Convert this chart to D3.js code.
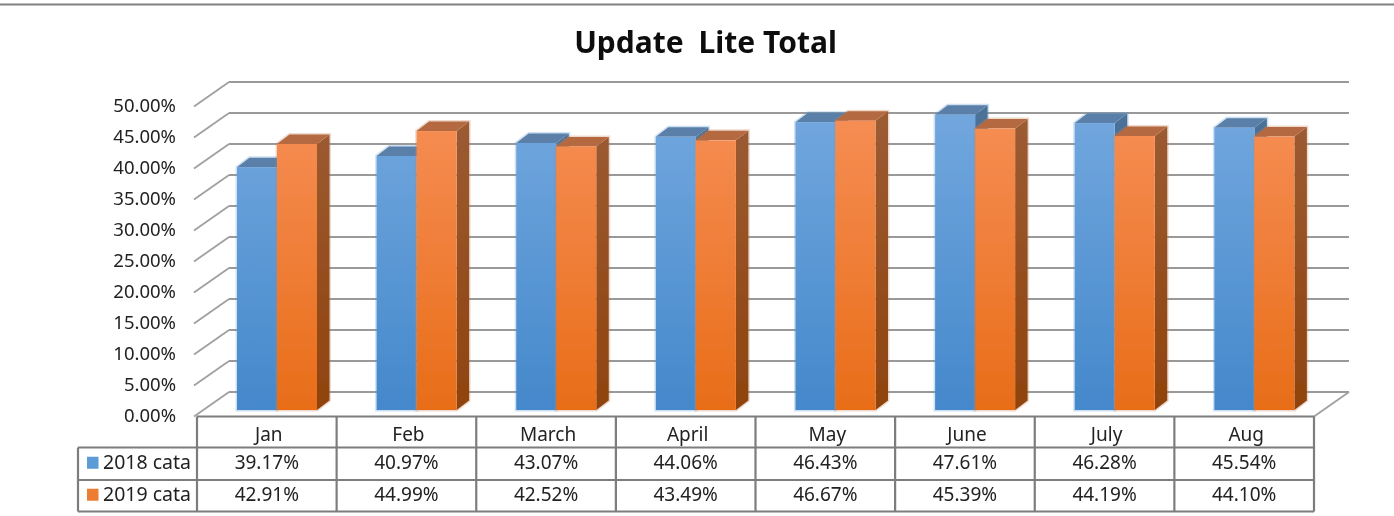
<!DOCTYPE html>
<html>
<head>
<meta charset="utf-8">
<script src="https://cdn.jsdelivr.net/npm/d3@7"></script>
<style>
  html, body { margin: 0; padding: 0; background: #fff; }
  svg { display: block; }
  text { font-family: "Noto Sans", sans-serif; fill: #222; }
</style>
</head>
<body>
<svg id="chart" width="1394" height="516"></svg>
<script>
const months = ["Jan", "Feb", "March", "April", "May", "June", "July", "Aug"];
const seriesNames = ["2018 cata", "2019 cata"];
const values2018 = [39.17, 40.97, 43.07, 44.06, 46.43, 47.61, 46.28, 45.54];
const values2019 = [42.91, 44.99, 42.52, 43.49, 46.67, 45.39, 44.19, 44.10];
const yTicks = [0, 5, 10, 15, 20, 25, 30, 35, 40, 45, 50];

const svg = d3.select("#chart");
const width = 1394, height = 516;

// chart box
const left = 197, right = 1314;
const depthX = 34, depthY = 24.5;    // floor depth
const barDepthX = 12.5, barDepthY = 9.5;
const floorFront = 416.5;
const barBase = 410;
const rows = [416.5, 447.5, 480, 511.5];
const legendLeft = 78;

const x = d3.scaleBand().domain(months).range([left, right]);
const y = d3.scaleLinear().domain([0, 50]).range([floorFront, floorFront - 310]);
const yBar = d3.scaleLinear().domain([0, 50]).range([barBase, barBase - 310]);
const inner = d3.scaleBand().domain(seriesNames).range([40, 120]);

const defs = svg.append("defs");
defs.append("filter").attr("id", "soft")
  .append("feGaussianBlur").attr("stdDeviation", 0.5);

function addGradient(id, top, bottom) {
  const g = defs.append("linearGradient").attr("id", id)
    .attr("gradientUnits", "userSpaceOnUse")
    .attr("x1", 0).attr("x2", 0).attr("y1", 110).attr("y2", barBase);
  g.append("stop").attr("offset", "0%").attr("stop-color", top);
  g.append("stop").attr("offset", "100%").attr("stop-color", bottom);
}
addGradient("front0", "#72a7de", "#4488cb");
addGradient("front1", "#f68e55", "#e86d18");
addGradient("side0", "#4c7298", "#2e5f8e");
addGradient("side1", "#9c5c34", "#8f430e");
const topColors = ["#5a7fa8", "#b5693f"];
const haloColors = ["#5b9bd5", "#c8825a"];

const root = svg.append("g").attr("filter", "url(#soft)");

// rule at the top of the page
root.append("line")
  .attr("x1", 0).attr("x2", width).attr("y1", 4.5).attr("y2", 4.5)
  .attr("stroke", "#808080").attr("stroke-width", 2.2);

const title = root.append("text")
  .attr("x", 705.5).attr("y", 53)
  .attr("text-anchor", "middle")
  .attr("font-size", 30).attr("font-weight", 700)
  .style("fill", "#111");
title.append("tspan").text("Update ");
title.append("tspan").attr("dx", 7).text("Lite Total");

// back wall gridlines and the slanted side wall
const grid = root.append("g");
grid.selectAll("line.back").data(yTicks).join("line")
  .attr("class", "back")
  .attr("x1", left + depthX - 2).attr("x2", right + depthX + 1)
  .attr("y1", d => y(d) - depthY).attr("y2", d => y(d) - depthY)
  .attr("stroke", "#999").attr("stroke-width", 2.2);
grid.selectAll("line.side").data(yTicks).join("line")
  .attr("class", "side")
  .attr("x1", left - 3).attr("x2", left + depthX - 2)
  .attr("y1", d => y(d)).attr("y2", d => y(d) - depthY)
  .attr("stroke", "#a0a0a0").attr("stroke-width", 1.8);
grid.append("line")
  .attr("x1", right).attr("x2", right + depthX + 1)
  .attr("y1", floorFront).attr("y2", floorFront - depthY)
  .attr("stroke", "#a0a0a0").attr("stroke-width", 1.8);

root.append("g").selectAll("text").data(yTicks).join("text")
  .attr("x", 176).attr("y", d => y(d))
  .attr("dy", "0.32em")
  .attr("text-anchor", "end")
  .attr("font-size", 18.5)
  .text(d => d.toFixed(2) + "%");

// bars, drawn series by series so the orange side sits over the blue one
const bars = [values2018, values2019];
seriesNames.forEach((name, s) => {
  const group = root.append("g");
  months.forEach((m, i) => {
    const x0 = x(m) + inner(name);
    const x1 = x0 + inner.bandwidth();
    const yTop = yBar(bars[s][i]);
    const dx = barDepthX, dy = barDepthY;

    // pale edge left by the picture's scaling
    group.append("polygon")
      .attr("points", [[x0, yTop], [x0 + dx, yTop - dy], [x1 + dx, yTop - dy], [x1 + dx, barBase - dy], [x1, barBase], [x0, barBase]].join(" "))
      .attr("fill", "none")
      .attr("stroke", haloColors[s]).attr("stroke-opacity", 0.3).attr("stroke-width", 3);

    group.append("polygon")
      .attr("points", [[x1, yTop], [x1 + dx, yTop - dy], [x1 + dx, barBase - dy], [x1, barBase]].join(" "))
      .attr("fill", `url(#side${s})`);
    group.append("polygon")
      .attr("points", [[x0, yTop], [x0 + dx, yTop - dy], [x1 + dx, yTop - dy], [x1, yTop]].join(" "))
      .attr("fill", topColors[s]);
    group.append("rect")
      .attr("x", x0).attr("y", yTop)
      .attr("width", x1 - x0).attr("height", barBase - yTop)
      .attr("fill", `url(#front${s})`);
  });
});

// data table
const table = root.append("g")
  .attr("stroke", "#7d7d7d").attr("stroke-width", 2.2).attr("fill", "none");
rows.forEach((r, i) => {
  table.append("line")
    .attr("x1", i === 0 ? left : legendLeft).attr("x2", right)
    .attr("y1", r).attr("y2", r);
});
table.append("line").attr("x1", legendLeft).attr("x2", legendLeft)
  .attr("y1", rows[1]).attr("y2", rows[3]);
[...months.map(m => x(m)), right].forEach(v => {
  table.append("line").attr("x1", v).attr("x2", v)
    .attr("y1", rows[0]).attr("y2", rows[3]);
});

const labels = root.append("g").attr("font-size", 19).attr("text-anchor", "middle");
labels.selectAll("text").data(months).join("text")
  .attr("x", d => x(d) + x.bandwidth() / 2 + 2)
  .attr("y", (rows[0] + rows[1]) / 2 + 3)
  .attr("dy", "0.34em")
  .text(d => d);

bars.forEach((vals, s) => {
  const rowMid = (rows[s + 1] + rows[s + 2]) / 2 - 1;
  root.append("g").attr("font-size", 19).attr("text-anchor", "middle")
    .selectAll("text").data(vals).join("text")
    .attr("x", (d, i) => x(months[i]) + x.bandwidth() / 2)
    .attr("y", rowMid)
    .attr("dy", "0.34em")
    .text(d => d.toFixed(2) + "%");

  root.append("rect")
    .attr("x", 87).attr("y", rowMid - 6)
    .attr("width", 11.5).attr("height", 12)
    .attr("fill", s === 0 ? "#5b9bd5" : "#ed7d31");
  root.append("text")
    .attr("x", 103).attr("y", rowMid)
    .attr("dy", "0.34em")
    .attr("font-size", 19.5)
    .text(seriesNames[s]);
});
</script>
</body>
</html>
